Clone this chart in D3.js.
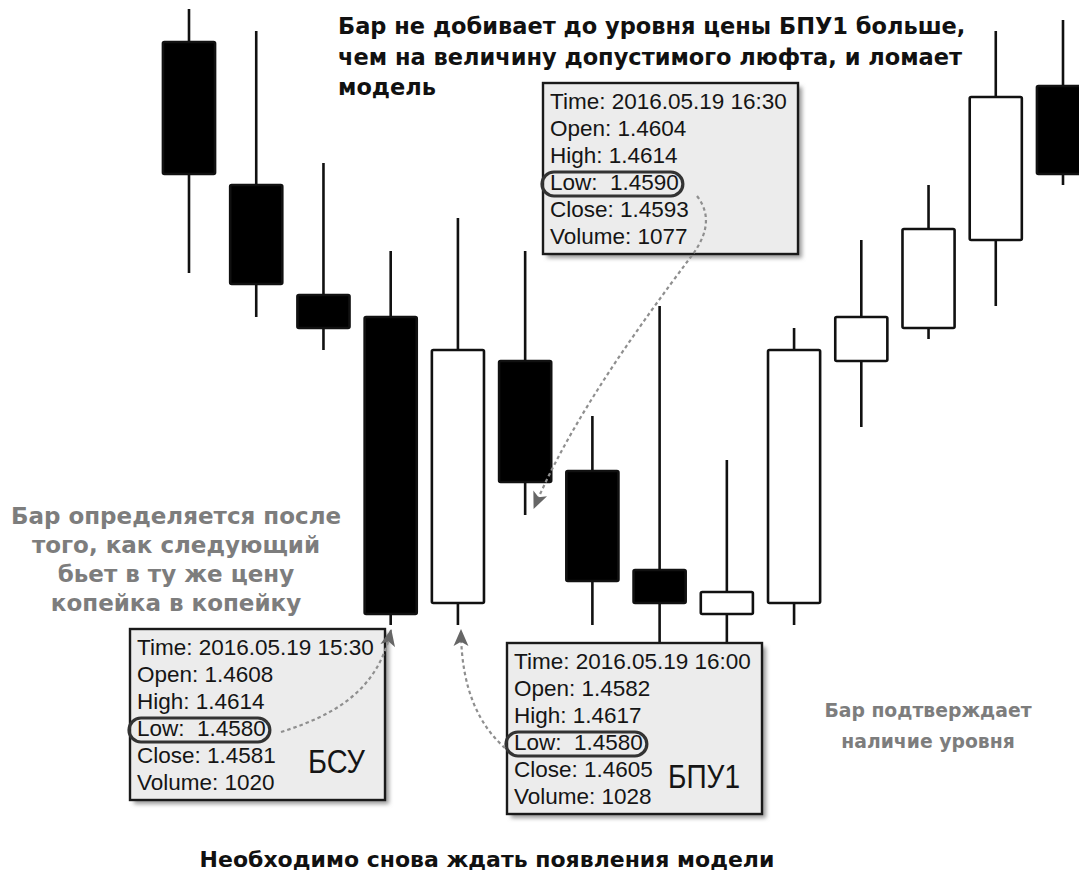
<!DOCTYPE html>
<html>
<head>
<meta charset="utf-8">
<script src="https://cdn.jsdelivr.net/npm/d3@7"></script>
<style>
  html, body { margin: 0; padding: 0; background: #fff; }
  svg { display: block; }
  .note { font-family: "DejaVu Sans", "Open Sans", sans-serif; font-weight: 700; }
  .tip { font-family: "Liberation Sans", Arial, sans-serif; white-space: pre; }
</style>
</head>
<body>
<svg id="chart" width="1079" height="877"></svg>
<script>
// 30-minute bars, 2016.05.19
const date = "2016.05.19";
const times  = ["14:00","14:30","15:00","15:30","16:00","16:30","17:00","17:30","18:00","18:30","19:00","19:30","20:00","20:30"];
const open   = [1.4633, 1.4620, 1.4610, 1.4608, 1.4582, 1.4604, 1.4594, 1.4585, 1.4581, 1.4582, 1.4604, 1.4607, 1.4615, 1.4629];
const high   = [1.4636, 1.4634, 1.4622, 1.4614, 1.4617, 1.4614, 1.4599, 1.4609, 1.4595, 1.4607, 1.4615, 1.4620, 1.4634, 1.4635];
const low    = [1.4612, 1.4608, 1.4605, 1.4580, 1.4580, 1.4590, 1.4580, 1.4577, 1.4577, 1.4580, 1.4598, 1.4606, 1.4609, 1.4620];
const close  = [1.4621, 1.4611, 1.4607, 1.4581, 1.4605, 1.4593, 1.4584, 1.4582, 1.4583, 1.4605, 1.4608, 1.4616, 1.4628, 1.4621];
const volume = [null, null, null, 1020, 1028, 1077, null, null, null, null, null, null, null, null];

// Info windows: bar index and label
const tipBars   = [5, 3, 4];
const tipLabels = ["", "БСУ", "БПУ1"];

const topNote    = ["Бар не добивает до уровня цены БПУ1 больше,", "чем на величину допустимого люфта, и ломает", "модель"];
const leftNote   = ["Бар определяется после", "того, как следующий", "бьет в ту же цену", "копейка в копейку"];
const rightNote  = ["Бар подтверждает", "наличие уровня"];
const bottomNote = ["Необходимо снова ждать появления модели"];

const bars = times.map((t, i) => ({ t, i, o: open[i], h: high[i], l: low[i], c: close[i], v: volume[i] }));

const svg = d3.select("#chart");
svg.append("rect").attr("width", 1079).attr("height", 877).attr("fill", "#fff");

const defs = svg.append("defs");
const blur = defs.append("filter").attr("id", "shadow").attr("x", "-10%").attr("y", "-10%").attr("width", "130%").attr("height", "130%");
blur.append("feGaussianBlur").attr("stdDeviation", 2);
defs.append("marker")
  .attr("id", "head").attr("viewBox", "0 0 16 16")
  .attr("refX", 15).attr("refY", 8)
  .attr("markerWidth", 17).attr("markerHeight", 17)
  .attr("markerUnits", "userSpaceOnUse").attr("orient", "auto")
  .append("path").attr("d", "M0,1 L16,8 L0,15 L4,8 Z").attr("fill", "#666");

const x = d3.scalePoint().domain(times).range([189, 1063]);
const y = d3.scaleLinear().domain([1.4575, 1.4640]).range([680, -35]);
const bodyW = x.step() * 0.775;

// candles
const g = svg.append("g");
g.selectAll("line.wick").data(bars).join("line")
  .attr("class", "wick")
  .attr("x1", d => x(d.t)).attr("x2", d => x(d.t))
  .attr("y1", d => y(d.h)).attr("y2", d => y(d.l))
  .attr("stroke", "#111").attr("stroke-width", 2.6);
g.selectAll("rect.body").data(bars).join("rect")
  .attr("class", "body")
  .attr("x", d => x(d.t) - bodyW / 2)
  .attr("width", bodyW)
  .attr("y", d => y(Math.max(d.o, d.c)))
  .attr("height", d => Math.max(2, Math.abs(y(d.o) - y(d.c))))
  .attr("rx", 1.5)
  .attr("fill", d => d.c < d.o ? "#000" : "#fff")
  .attr("stroke", "#111").attr("stroke-width", 2.6);

// info windows
const tipPos = [[543, 83], [130, 629], [507, 643]];
const tipW = 255, tipH = 171, lineH = 27;

tipBars.forEach((bi, k) => {
  const d = bars[bi];
  const [bx, by] = tipPos[k];
  const tg = svg.append("g").attr("transform", `translate(${bx},${by})`);
  tg.append("rect").attr("x", 4).attr("y", 4).attr("width", tipW).attr("height", tipH)
    .attr("fill", "#9a9a9a").attr("filter", "url(#shadow)");
  tg.append("rect").attr("width", tipW).attr("height", tipH)
    .attr("fill", "#ececec").attr("stroke", "#1a1a1a").attr("stroke-width", 2.4);
  const lines = [
    `Time: ${date} ${d.t}`,
    `Open: ${d.o.toFixed(4)}`,
    `High: ${d.h.toFixed(4)}`,
    `Low:  ${d.l.toFixed(4)}`,
    `Close: ${d.c.toFixed(4)}`,
    `Volume: ${d.v}`
  ];
  const txt = tg.selectAll("text.row").data(lines).join("text")
    .attr("class", "tip row")
    .attr("x", 7).attr("y", (s, j) => 26 + j * lineH)
    .attr("font-size", 22.5).attr("fill", "#151515")
    .text(s => s);
  const lowW = txt.nodes()[3].getComputedTextLength();
  tg.append("rect")
    .attr("x", -1).attr("y", 26 + 3 * lineH - 18)
    .attr("width", lowW + 12).attr("height", 24)
    .attr("rx", 12)
    .attr("fill", "none").attr("stroke", "#333").attr("stroke-width", 3.2);
  if (tipLabels[k]) {
    tg.append("text").attr("class", "tip")
      .attr("x", k === 1 ? 178 : 161).attr("y", k === 1 ? 144 : 145)
      .attr("font-size", 34).attr("fill", "#151515")
      .attr("textLength", k === 1 ? 57 : 72).attr("lengthAdjust", "spacingAndGlyphs")
      .text(tipLabels[k]);
  }
});

// dashed pointers from the circled Low values to the bars
const pointers = [
  "M697,196 C714,218 704,240 690,258 C640,325 572,418 534,508",
  "M281,732 C332,716 378,692 391,630",
  "M505,748 C480,726 461,690 461,630"
];
svg.append("g").selectAll("path").data(pointers).join("path")
  .attr("d", d => d)
  .attr("fill", "none").attr("stroke", "#8f8f8f")
  .attr("stroke-width", 2.2).attr("stroke-dasharray", "3.5 3")
  .attr("marker-end", "url(#head)");

// captions
function block(lines, opts) {
  svg.append("g").selectAll("text").data(lines).join("text")
    .attr("class", "note")
    .attr("x", opts.x).attr("y", (s, j) => opts.y + j * opts.dy)
    .attr("text-anchor", opts.anchor)
    .attr("font-size", opts.size)
    .attr("fill", opts.color)
    .text(s => s);
}
block(topNote,    { x: 338, y: 34,  dy: 30.5, anchor: "start",  size: 22.5, color: "#111" });
block(leftNote,   { x: 176, y: 524, dy: 29,   anchor: "middle", size: 23,   color: "#7d7d7d" });
block(rightNote,  { x: 928, y: 717, dy: 31,   anchor: "middle", size: 18.8, color: "#7d7d7d" });
block(bottomNote, { x: 487, y: 867, dy: 29,   anchor: "middle", size: 22,   color: "#111" });
</script>
</body>
</html>
